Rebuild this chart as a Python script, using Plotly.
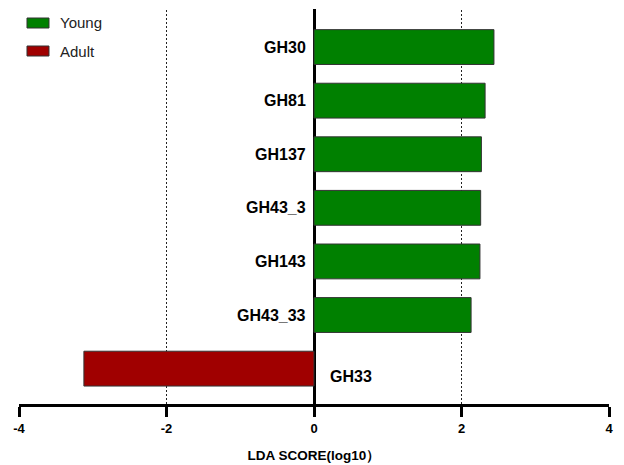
import plotly.graph_objects as go

# LDA effect sizes per feature (log10 scale)
features = ["GH33", "GH43_33", "GH143", "GH43_3", "GH137", "GH81", "GH30"]
scores = [-3.12, 2.13, 2.25, 2.26, 2.27, 2.32, 2.44]
groups = ["Adult", "Young", "Young", "Young", "Young", "Young", "Young"]

group_colors = {"Young": "#008000", "Adult": "#a00000"}
x_ticks = [-4, -2, 0, 2, 4]
grid_at = [-2, 2]

positions = list(range(len(features)))

fig = go.Figure()
fig.add_trace(go.Bar(
    x=scores,
    y=positions,
    orientation="h",
    width=0.65,
    marker=dict(color=[group_colors[g] for g in groups],
                line=dict(color="#333333", width=1)),
    showlegend=False,
    hoverinfo="skip",
))

# feature names beside the zero line
for pos, name, val in zip(positions, features, scores):
    if val >= 0:
        fig.add_annotation(x=0, y=pos, text=f"<b>{name}</b>", showarrow=False,
                           xanchor="right", xshift=-6, font=dict(size=16))
    else:
        fig.add_annotation(x=0, y=pos, text=f"<b>{name}</b>", showarrow=False,
                           xanchor="left", xshift=14, yshift=-8, font=dict(size=16))

# dashed reference lines
for g in grid_at:
    fig.add_shape(type="line", x0=g, x1=g, y0=0, y1=1, xref="x", yref="paper",
                  line=dict(color="#222222", width=1, dash="2px,2px"), layer="below")

# legend swatches
legend_rows = [("Young", 0.0), ("Adult", 1.0)]
for name, row in legend_rows:
    top = 18 + row * 28
    y1 = (404 - top) / 395
    y0 = (404 - top - 10) / 395
    fig.add_shape(type="rect", xref="paper", yref="paper",
                  x0=8 / 590.3, x1=30 / 590.3, y0=y0, y1=y1,
                  fillcolor=group_colors[name], line=dict(color="#333333", width=1))
    fig.add_annotation(xref="paper", yref="paper", x=39 / 590.3, y=(y0 + y1) / 2,
                       text=name, showarrow=False, xanchor="left", yanchor="middle",
                       font=dict(size=15, color="#222222"))

fig.update_layout(
    width=624, height=465,
    margin=dict(l=19, r=15, t=9, b=61),
    paper_bgcolor="white", plot_bgcolor="white",
    font=dict(family="Liberation Sans, Arial, sans-serif", color="black"),
    bargap=0.35,
    xaxis=dict(
        range=[-4, 4], tickvals=x_ticks, ticktext=[f"<b>{t}</b>" for t in x_ticks],
        showgrid=False, zeroline=True, zerolinecolor="black", zerolinewidth=3,
        showline=True, linecolor="black", linewidth=3,
        ticks="outside", ticklen=10, tickwidth=3, tickcolor="black",
        tickfont=dict(size=13), automargin=False,
        title=dict(text="<b>LDA SCORE(log10）</b>", font=dict(size=13.5), standoff=16),
    ),
    yaxis=dict(range=[-0.66, 6.71], showticklabels=False, showgrid=False,
               zeroline=False, showline=False, automargin=False),
)

fig.write_html("out.html")
